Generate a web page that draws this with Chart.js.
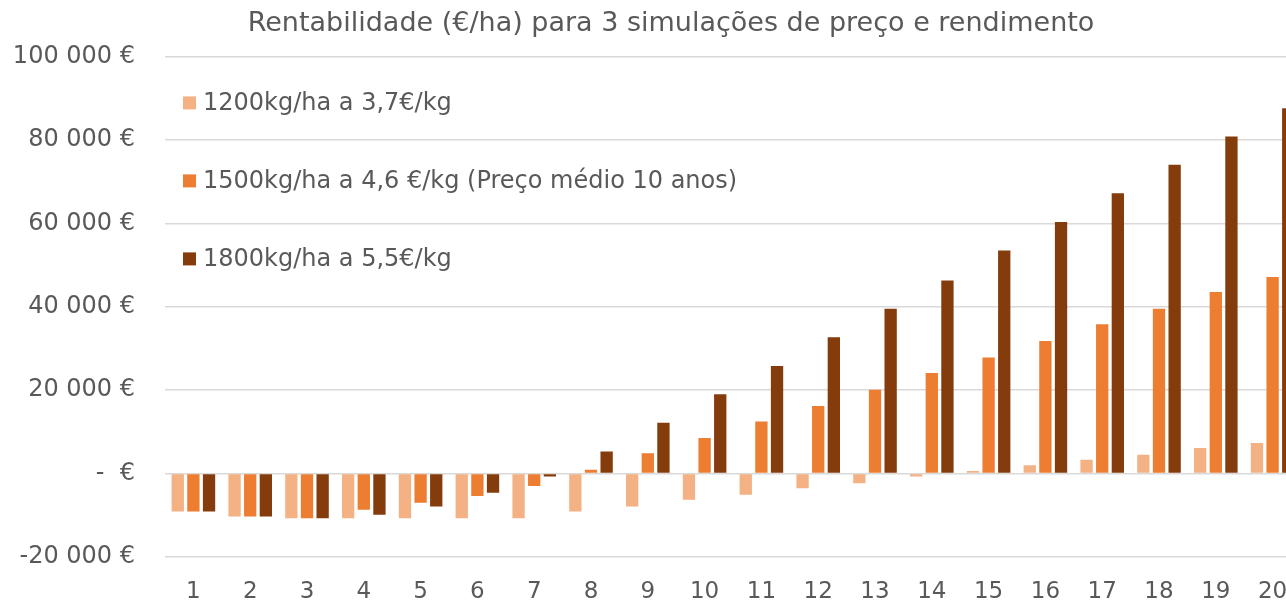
<!DOCTYPE html>
<html>
<head>
<meta charset="utf-8">
<script src="https://cdn.jsdelivr.net/npm/chart.js@4"></script>
<style>
  html, body { margin: 0; padding: 0; background: #fff; overflow: hidden; }
  #wrap { width: 1342px; height: 602px; }
</style>
</head>
<body>
<div id="wrap"><canvas id="chart" width="1342" height="602"></canvas></div>
<script>
const anos = ["1","2","3","4","5","6","7","8","9","10","11","12","13","14","15","16","17","18","19","20"];
const sim1200 = [-9100, -10300, -10700, -10700, -10700, -10700, -10700, -9100, -7900, -6300, -5100, -3500, -2300, -700, 600, 2000, 3300, 4500, 6100, 7300];
const sim1500 = [-9100, -10300, -10700, -8700, -7000, -5400, -3000, 900, 4900, 8500, 12500, 16200, 20100, 24100, 27800, 31800, 35800, 39500, 43500, 47100];
const sim1800 = [-9100, -10300, -10700, -9900, -7900, -4600, -700, 5300, 12200, 19000, 25800, 32700, 39500, 46300, 53500, 60300, 67200, 74000, 80800, 87600];
const labels = ["1200kg/ha a 3,7€/kg", "1500kg/ha a 4,6 €/kg (Preço médio 10 anos)", "1800kg/ha a 5,5€/kg"];
const colors = ["#F4B183", "#ED7D31", "#843C0C"];
const yTicks = [-20000, 0, 20000, 40000, 60000, 80000, 100000];

const FONT = "'DejaVu Sans', sans-serif";
const TEXT = "#595959";

function euro(v){
  if(v === 0) return "-  €";
  const s = Math.abs(v).toString().replace(/\B(?=(\d{3})+(?!\d))/g, " ");
  return (v < 0 ? "-" : "") + s + " €";
}

// legend drawn inside the plot area, top-left, like the original
const innerLegend = {
  id: "innerLegend",
  afterDatasetsDraw(chart){
    const { ctx, chartArea } = chart;
    ctx.save();
    ctx.font = "24px " + FONT;
    ctx.textBaseline = "middle";
    chart.data.datasets.forEach((ds, i) => {
      const y = chartArea.top + 46 + i * 78;
      ctx.fillStyle = ds.backgroundColor;
      ctx.fillRect(chartArea.left + 18, y - 6, 13, 13);
      ctx.fillStyle = TEXT;
      ctx.fillText(ds.label, chartArea.left + 38, y + 1);
    });
    ctx.restore();
  }
};

new Chart(document.getElementById("chart"), {
  type: "bar",
  data: {
    labels: anos,
    datasets: [
      { label: labels[0], data: sim1200, backgroundColor: colors[0] },
      { label: labels[1], data: sim1500, backgroundColor: colors[1] },
      { label: labels[2], data: sim1800, backgroundColor: colors[2] }
    ]
  },
  options: {
    responsive: false,
    animation: false,
    categoryPercentage: 0.826,
    barPercentage: 0.787,
    layout: { padding: 0 },
    plugins: {
      legend: { display: false },
      tooltip: { enabled: false },
      title: {
        display: true,
        text: "Rentabilidade (€/ha) para 3 simulações de preço e rendimento",
        color: TEXT,
        font: { family: FONT, size: 27, weight: "normal" },
        padding: { top: 8, bottom: 16 }
      }
    },
    scales: {
      x: {
        grid: { display: false, drawTicks: false },
        border: { display: false },
        ticks: { color: TEXT, font: { family: FONT, size: 23 }, padding: 21 },
        afterFit: (s) => { s.height = 45; }
      },
      y: {
        min: -20000,
        max: 100000,
        afterBuildTicks: (s) => { s.ticks = yTicks.map(v => ({ value: v })); },
        grid: { color: "#D9D9D9", lineWidth: 1.5, drawTicks: false },
        border: { display: false },
        ticks: { color: TEXT, font: { family: FONT, size: 24 }, padding: 30, callback: (v) => euro(v) },
        afterFit: (s) => { s.width = 165; }
      },
      // empty right-hand spacer so the plot runs past the window edge while the title stays centred
      spacer: {
        type: "linear",
        position: "right",
        grid: { display: false, drawTicks: false },
        border: { display: false },
        ticks: { display: false },
        afterFit: (s) => { s.width = 41; }
      }
    }
  },
  plugins: [innerLegend]
});
</script>
</body>
</html>
